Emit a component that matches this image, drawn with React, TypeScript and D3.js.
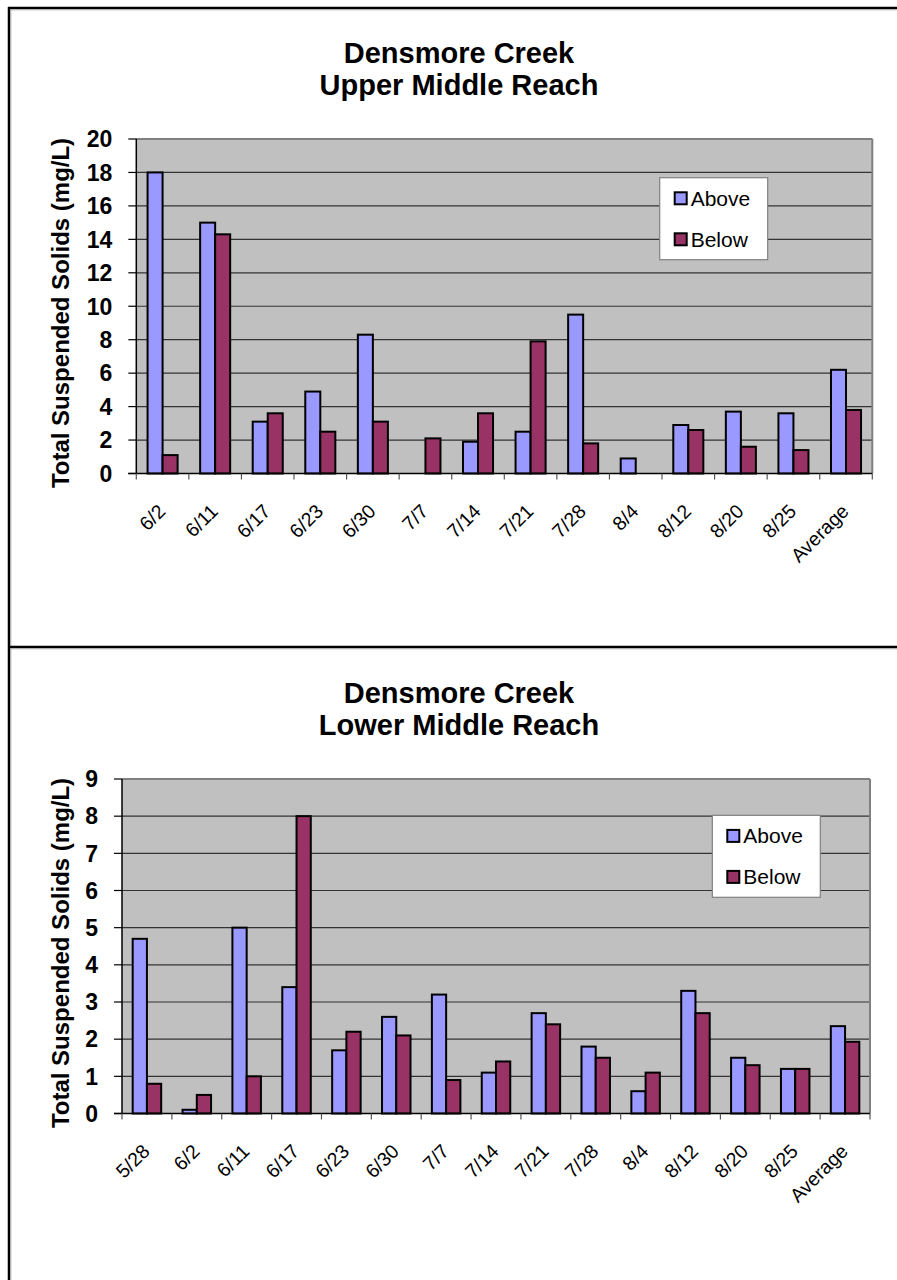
import React from "react";
import * as d3 from "d3";

// Sampling dates and Total Suspended Solids readings (mg/L)
const UPPER_DATES = ["6/2", "6/11", "6/17", "6/23", "6/30", "7/7", "7/14", "7/21", "7/28", "8/4", "8/12", "8/20", "8/25", "Average"];
const UPPER_ABOVE: (number | null)[] = [18, 15, 3.1, 4.9, 8.3, null, 1.9, 2.5, 9.5, 0.9, 2.9, 3.7, 3.6, 6.2];
const UPPER_BELOW: (number | null)[] = [1.1, 14.3, 3.6, 2.5, 3.1, 2.1, 3.6, 7.9, 1.8, null, 2.6, 1.6, 1.4, 3.8];
const UPPER_TICKS = [0, 2, 4, 6, 8, 10, 12, 14, 16, 18, 20];

const LOWER_DATES = ["5/28", "6/2", "6/11", "6/17", "6/23", "6/30", "7/7", "7/14", "7/21", "7/28", "8/4", "8/12", "8/20", "8/25", "Average"];
const LOWER_ABOVE: (number | null)[] = [4.7, 0.1, 5.0, 3.4, 1.7, 2.6, 3.2, 1.1, 2.7, 1.8, 0.6, 3.3, 1.5, 1.2, 2.35];
const LOWER_BELOW: (number | null)[] = [0.8, 0.5, 1.0, 8.0, 2.2, 2.1, 0.9, 1.4, 2.4, 1.5, 1.1, 2.7, 1.3, 1.2, 1.93];
const LOWER_TICKS = [0, 1, 2, 3, 4, 5, 6, 7, 8, 9];

const SERIES = ["Above", "Below"];
const COLORS: Record<string, string> = { Above: "#9999FF", Below: "#993366" };

const FONT = "'Liberation Sans', Arial, Helvetica, sans-serif";
const W = 897;
const H = 1280;

type PanelProps = {
  top: number;
  titleLines: string[];
  dates: string[];
  above: (number | null)[];
  below: (number | null)[];
  ticks: number[];
  plotLeft: number;
  plotRight: number;
  legendX: number;
  legendY: number;
};

function Panel(p: PanelProps) {
  const plotTop = p.top + 132;
  const plotBottom = p.top + 466.5;
  const yMax = p.ticks[p.ticks.length - 1];

  const y = d3.scaleLinear().domain([0, yMax]).range([plotBottom, plotTop]);
  const x0 = d3.scaleBand<string>().domain(p.dates).range([p.plotLeft, p.plotRight]).paddingInner(0).paddingOuter(0);
  const x1 = d3.scaleBand<string>().domain(SERIES).range([0, x0.bandwidth()]).paddingInner(0).paddingOuter(0.75);

  const values: Record<string, (number | null)[]> = { Above: p.above, Below: p.below };
  const boundaries = d3.range(p.dates.length + 1).map((i) => p.plotLeft + i * x0.step());

  return (
    <g>
      {/* title */}
      <text x={459} y={p.top + 56} textAnchor="middle" fontFamily={FONT} fontWeight="bold" fontSize={29}>
        {p.titleLines[0]}
      </text>
      <text x={459} y={p.top + 88} textAnchor="middle" fontFamily={FONT} fontWeight="bold" fontSize={29}>
        {p.titleLines[1]}
      </text>

      {/* plot area */}
      <rect x={p.plotLeft} y={plotTop} width={p.plotRight - p.plotLeft} height={plotBottom - plotTop} fill="#C0C0C0" />
      {p.ticks.slice(1).map((t) => (
        <line key={"g" + t} x1={p.plotLeft} x2={p.plotRight} y1={y(t)} y2={y(t)} stroke="#333333" strokeWidth={1.2} />
      ))}
      <line x1={p.plotLeft} x2={p.plotRight} y1={plotTop} y2={plotTop} stroke="#808080" strokeWidth={2} />
      <line x1={p.plotRight} x2={p.plotRight} y1={plotTop} y2={plotBottom} stroke="#808080" strokeWidth={2} />

      {/* bars */}
      {SERIES.map((s) =>
        p.dates.map((d, i) => {
          const v = values[s][i];
          if (v == null) return null;
          const bx = (x0(d) as number) + (x1(s) as number);
          return (
            <rect
              key={s + d}
              x={bx}
              y={y(v)}
              width={x1.bandwidth()}
              height={y(0) - y(v)}
              fill={COLORS[s]}
              stroke="#000"
              strokeWidth={2}
            />
          );
        })
      )}

      {/* axes */}
      <line x1={p.plotLeft} x2={p.plotLeft} y1={plotTop} y2={plotBottom} stroke="#000" strokeWidth={1.5} />
      <line x1={p.plotLeft - 8} x2={p.plotRight} y1={plotBottom} y2={plotBottom} stroke="#000" strokeWidth={1.5} />
      {p.ticks.map((t) => (
        <g key={"t" + t}>
          <line x1={p.plotLeft - 8} x2={p.plotLeft} y1={y(t)} y2={y(t)} stroke="#000" strokeWidth={1.2} />
          <text
            x={p.plotLeft - 24}
            y={y(t)}
            dy="0.36em"
            textAnchor="end"
            fontFamily={FONT}
            fontWeight="bold"
            fontSize={23}
          >
            {t}
          </text>
        </g>
      ))}
      {boundaries.map((bx, i) => (
        <line key={"b" + i} x1={bx} x2={bx} y1={plotBottom} y2={plotBottom + 6} stroke="#555" strokeWidth={1.2} />
      ))}
      {p.dates.map((d) => {
        const cx = (x0(d) as number) + x0.bandwidth() / 2 + 4;
        const cy = plotBottom + 39;
        return (
          <text
            key={"l" + d}
            x={cx}
            y={cy}
            textAnchor="end"
            fontFamily={FONT}
            fontSize={19.5}
            transform={`rotate(-45 ${cx} ${cy})`}
          >
            {d}
          </text>
        );
      })}

      {/* y-axis title */}
      <text
        x={0}
        y={0}
        transform={`translate(60 ${p.top + 306}) rotate(-90)`}
        textAnchor="middle"
        dominantBaseline="central"
        fontFamily={FONT}
        fontWeight="bold"
        fontSize={24}
      >
        Total Suspended Solids (mg/L)
      </text>

      {/* legend */}
      <rect x={p.legendX} y={p.legendY} width={108} height={82} fill="#fff" stroke="#808080" strokeWidth={1.2} />
      {SERIES.map((s, i) => {
        const cy = p.legendY + 20.6 + i * 41;
        return (
          <g key={"lg" + s}>
            <rect x={p.legendX + 15} y={cy - 6} width={12} height={12} fill={COLORS[s]} stroke="#000" strokeWidth={2} />
            <text x={p.legendX + 31} y={cy} dy="0.36em" fontFamily={FONT} fontSize={21}>
              {s}
            </text>
          </g>
        );
      })}
    </g>
  );
}

export default function App() {
  return (
    <div style={{ position: "absolute", left: 0, top: 0, width: W, height: H, overflow: "hidden" }}>
      <svg width={W} height={H} style={{ display: "block", background: "#fff" }}>
        {/* page frame */}
        <line x1={9} x2={9} y1={7} y2={H} stroke="#000" strokeWidth={2.5} />
        <line x1={10.8} x2={10.8} y1={9.5} y2={H} stroke="#aaa" strokeWidth={1} />
        <line x1={8} x2={W} y1={8} y2={8} stroke="#000" strokeWidth={2.5} />
        <line x1={10} x2={W} y1={9.8} y2={9.8} stroke="#aaa" strokeWidth={1} />
        <line x1={8} x2={W} y1={647} y2={647} stroke="#000" strokeWidth={2.5} />
        <line x1={10} x2={W} y1={648.8} y2={648.8} stroke="#aaa" strokeWidth={1} />

        <Panel
          top={7}
          titleLines={["Densmore Creek", "Upper Middle Reach"]}
          dates={UPPER_DATES}
          above={UPPER_ABOVE}
          below={UPPER_BELOW}
          ticks={UPPER_TICKS}
          plotLeft={136.3}
          plotRight={872.3}
          legendX={659.7}
          legendY={177.7}
        />
        <Panel
          top={647}
          titleLines={["Densmore Creek", "Lower Middle Reach"]}
          dates={LOWER_DATES}
          above={LOWER_ABOVE}
          below={LOWER_BELOW}
          ticks={LOWER_TICKS}
          plotLeft={122}
          plotRight={870}
          legendX={712.3}
          legendY={815.3}
        />
      </svg>
    </div>
  );
}
